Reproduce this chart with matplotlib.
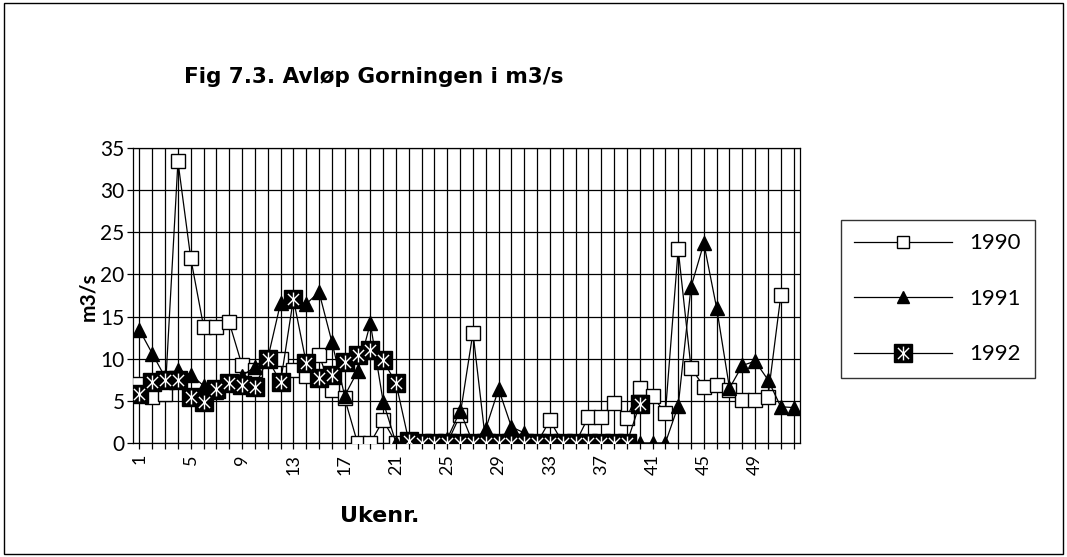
import matplotlib
matplotlib.use('Agg')
import matplotlib.pyplot as plt
import numpy as np
from matplotlib.path import Path
from matplotlib.lines import Line2D
from matplotlib.patches import Rectangle

plt.rcParams['font.family'] = ['Lato', 'DejaVu Sans']

# Ukenr. 1..52
weeks = np.arange(1, 53)
nan = np.nan

avlop_1990 = [7.0, 5.5, 5.8, 33.4, 21.9, 13.8, 13.8, 14.3, 9.2, 8.7,
              10.0, 10.0, 8.7, 7.9, 10.4, 6.3, 5.3, 0.0, 0.0, 2.7,
              0.0, 0.0, 0.0, 0.0, 0.0, 3.3, 13.1, 0.0, 0.0, 0.0,
              0.0, 0.0, 2.7, 0.0, 0.0, 3.1, 3.1, 4.8, 3.0, 6.5,
              5.6, 3.5, 23.0, 8.9, 6.7, 6.9, 6.3, 5.1, 5.1, 5.5,
              17.5, nan]
avlop_1991 = [13.4, 10.6, 7.8, 8.7, 8.1, 6.8, 6.0, 7.0, 8.0, 9.0,
              10.0, 16.6, 17.0, 16.5, 17.9, 12.0, 5.6, 8.5, 14.2, 4.9,
              0.0, 0.0, 0.0, 0.0, 0.5, 3.8, 0.0, 1.7, 6.4, 1.9,
              1.2, 0.0, 0.0, 0.0, 0.0, 0.0, 0.0, 0.0, 0.0, 0.0,
              0.0, 0.0, 4.4, 18.5, 23.7, 16.0, 6.5, 9.2, 9.7, 7.5,
              4.3, 4.2]
avlop_1992 = [5.8, 7.2, 7.5, 7.5, 5.5, 4.9, 6.4, 7.1, 6.9, 6.7,
              10.0, 7.2, 17.1, 9.5, 7.7, 8.1, 9.6, 10.4, 11.0, 9.8,
              7.1, 0.2, 0.0, 0.0, 0.0, 0.0, 0.0, 0.0, 0.0, 0.0,
              0.0, 0.0, 0.0, 0.0, 0.0, 0.0, 0.0, 0.0, 0.0, 4.6,
              nan, nan, nan, nan, nan, nan, nan, nan, nan, nan,
              nan, nan]

tick_weeks = np.arange(1, 53, 4)

# asterisk marker (Excel star): vertical line + x
star = Path([(0, -1), (0, 1), (-0.8, -0.8), (0.8, 0.8), (-0.8, 0.8), (0.8, -0.8)],
            [Path.MOVETO, Path.LINETO, Path.MOVETO, Path.LINETO, Path.MOVETO, Path.LINETO])

fig = plt.figure(figsize=(10.67, 5.57), dpi=100)
ax = fig.add_axes([0.1247, 0.2047, 0.6251, 0.5296])

ax.plot(weeks, avlop_1990, color='black', lw=0.9, marker='s', markersize=9.5,
        markerfacecolor='white', markeredgecolor='black', markeredgewidth=1.0, zorder=3)
ax.plot(weeks, avlop_1991, color='black', lw=0.9, marker='^', markersize=10,
        markerfacecolor='black', markeredgecolor='black', zorder=4)
ax.plot(weeks, avlop_1992, color='black', lw=0.9, marker='s', markersize=13,
        markerfacecolor='black', markeredgecolor='black', zorder=5)
ax.plot(weeks, avlop_1992, ls='none', marker=star, markersize=10,
        markeredgecolor='white', markeredgewidth=1.0, zorder=6)

ax.set_xlim(0.5, 52.5)
ax.set_ylim(0, 35)
ax.set_yticks(np.arange(0, 36, 5))
ax.set_xticks(weeks)
ax.set_xticklabels([str(w) if w in tick_weeks else '' for w in weeks],
                   rotation=90, fontsize=13)
ax.tick_params(axis='x', length=4, width=0.9, direction='out', pad=4)
ax.tick_params(axis='y', length=4, width=0.9, direction='out', labelsize=15, pad=2)
ax.grid(True, color='black', lw=0.9)
ax.set_axisbelow(True)
for sp in ax.spines.values():
    sp.set_color('black')
    sp.set_linewidth(0.9)

fig.text(0.35, 0.862, 'Fig 7.3. Avløp Gorningen i m3/s', ha='center', va='center',
         fontsize=15.5, fontweight='bold', family='DejaVu Sans')
fig.text(0.083, 0.467, 'm3/s', rotation=90, ha='center', va='center',
         fontsize=15, fontweight='bold')
fig.text(0.356, 0.074, 'Ukenr.', ha='center', va='center',
         fontsize=16, fontweight='bold', family='DejaVu Sans')

h1990 = Line2D([], [], color='black', lw=0.9, marker='s', markersize=9,
               markerfacecolor='white', markeredgecolor='black')
h1991 = Line2D([], [], color='black', lw=0.9, marker='^', markersize=9,
               markerfacecolor='black')
h1992a = Line2D([], [], color='black', lw=0.9, marker='s', markersize=13,
                markerfacecolor='black')
h1992b = Line2D([], [], ls='none', marker=star, markersize=10, markeredgecolor='white')
leg = fig.legend([h1990, h1991, (h1992a, h1992b)], ['1990', '1991', '1992'],
                 loc='upper left', bbox_to_anchor=(0.788, 0.605),
                 fontsize=16, handlelength=4.4, labelspacing=1.6, handletextpad=0.8,
                 borderpad=0.6, borderaxespad=0, fancybox=False, frameon=True,
                 edgecolor='black')
leg.get_frame().set_linewidth(1.0)

fig.patches.append(Rectangle((0.004, 0.006), 0.992, 0.988, transform=fig.transFigure,
                             fill=False, edgecolor='black', lw=1.0))

fig.savefig('out.png', dpi=100)
